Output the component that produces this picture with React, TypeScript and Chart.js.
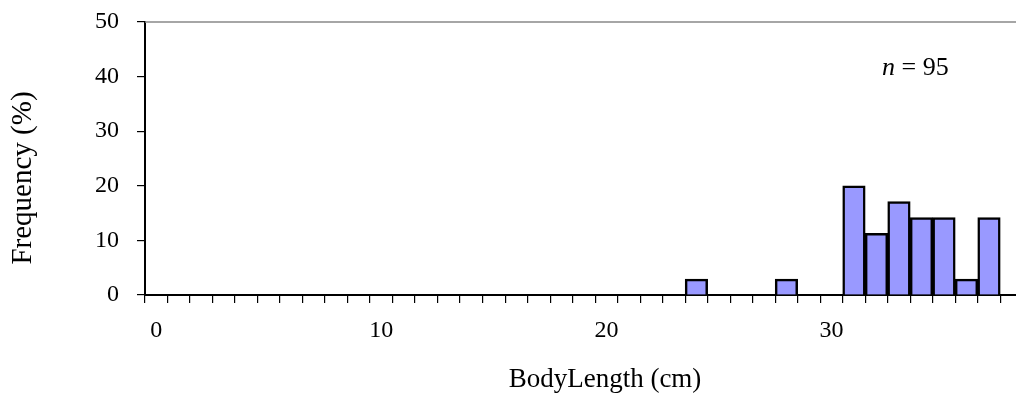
import React, { useEffect, useRef } from "react";
import { Chart, registerables } from "chart.js";

Chart.register(...registerables);

// Histogram bins (lower edge of each 1 cm bin) and frequency (%)
const binStarts = [24, 28, 31, 32, 33, 34, 35, 36, 37];
const frequencies = [2.9, 2.9, 20, 11.3, 17.1, 14.2, 14.2, 2.9, 14.2];
const yTickValues = [0, 10, 20, 30, 40, 50];
const xTickLabelEvery = 10;
const xTickCount = 39;
const xMin = 0;
const xMax = 38.7;
const yTitle = "Frequency (%)";
const xTitle = "BodyLength (cm)";
const noteItalic = "n";
const noteRest = " = 95";

const SERIF = '"Liberation Serif", "Times New Roman", serif';

const overlayPlugin = {
  id: "overlay",
  afterDraw(chart: any) {
    const { ctx, chartArea } = chart;
    ctx.save();
    // top border line
    ctx.strokeStyle = "#888888";
    ctx.lineWidth = 1.5;
    ctx.beginPath();
    ctx.moveTo(chartArea.left, chartArea.top);
    ctx.lineTo(chartArea.right, chartArea.top);
    ctx.stroke();

    ctx.fillStyle = "#000";
    // y title
    ctx.save();
    ctx.font = `29px ${SERIF}`;
    ctx.translate(23, 178);
    ctx.rotate(-Math.PI / 2);
    ctx.textAlign = "center";
    ctx.textBaseline = "middle";
    ctx.fillText(yTitle, 0, 0);
    ctx.restore();

    // x title
    ctx.font = `27px ${SERIF}`;
    ctx.textAlign = "center";
    ctx.textBaseline = "alphabetic";
    ctx.fillText(xTitle, 605, 387);

    // n = 95 note
    ctx.textAlign = "left";
    ctx.font = `italic 26px ${SERIF}`;
    const nx = 882;
    ctx.fillText(noteItalic, nx, 75);
    const w = ctx.measureText(noteItalic).width;
    ctx.font = `26px ${SERIF}`;
    ctx.fillText(noteRest, nx + w, 75);
    ctx.restore();
  },
};

export default function App() {
  const ref = useRef<HTMLCanvasElement>(null);
  useEffect(() => {
    document.body.style.margin = "0";
    document.body.style.overflow = "hidden";
    const canvas = ref.current!;
    const chart = new Chart(canvas, {
      type: "bar",
      data: {
        datasets: [
          {
            data: binStarts.map((b, i) => ({ x: b + 0.5, y: frequencies[i] })),
            backgroundColor: "#9999FF",
            borderColor: "#000000",
            borderWidth: 2.5,
            borderSkipped: "start",
            barPercentage: 1,
            categoryPercentage: 1,
          },
        ],
      },
      options: {
        responsive: false,
        animation: false,
        devicePixelRatio: 1,
        layout: { padding: { top: 22, left: 0, right: 0, bottom: 0 } },
        plugins: {
          legend: { display: false },
          tooltip: { enabled: false },
        },
        scales: {
          x: {
            type: "linear",
            min: xMin,
            max: xMax,
            offset: false,
            afterBuildTicks: (s: any) => {
              s.ticks = Array.from({ length: xTickCount }, (_, i) => ({ value: i }));
            },
            afterFit: (s: any) => {
              s.height = 99;
              s.paddingLeft = 0;
              s.paddingRight = 0;
            },
            grid: {
              drawOnChartArea: false,
              drawTicks: true,
              tickLength: 8,
              color: "#000",
              lineWidth: 1.2,
              offset: false,
            },
            border: { display: true, color: "#000", width: 2 },
            ticks: {
              autoSkip: false,
              maxRotation: 0,
              minRotation: 0,
              padding: 13,
              labelOffset: 11.25,
              color: "#000",
              font: { family: SERIF, size: 24 },
              callback: (v: any) => (Number(v) % xTickLabelEvery === 0 ? String(v) : ""),
            },
          },
          y: {
            min: 0,
            max: 50,
            afterBuildTicks: (s: any) => {
              s.ticks = yTickValues.map((v) => ({ value: v }));
            },
            afterFit: (s: any) => {
              s.width = 145;
              s.paddingTop = 0;
              s.paddingBottom = 0;
            },
            grid: {
              drawOnChartArea: false,
              drawTicks: true,
              tickLength: 8,
              color: "#000",
              lineWidth: 1.2,
            },
            border: { display: true, color: "#000", width: 2 },
            ticks: {
              padding: 18,
              color: "#000",
              font: { family: SERIF, size: 24 },
            },
          },
        },
      },
      plugins: [overlayPlugin],
    });
    return () => chart.destroy();
  }, []);
  return (
    <canvas
      ref={ref}
      width={1016}
      height={394}
      style={{ display: "block", width: 1016, height: 394 }}
    />
  );
}
